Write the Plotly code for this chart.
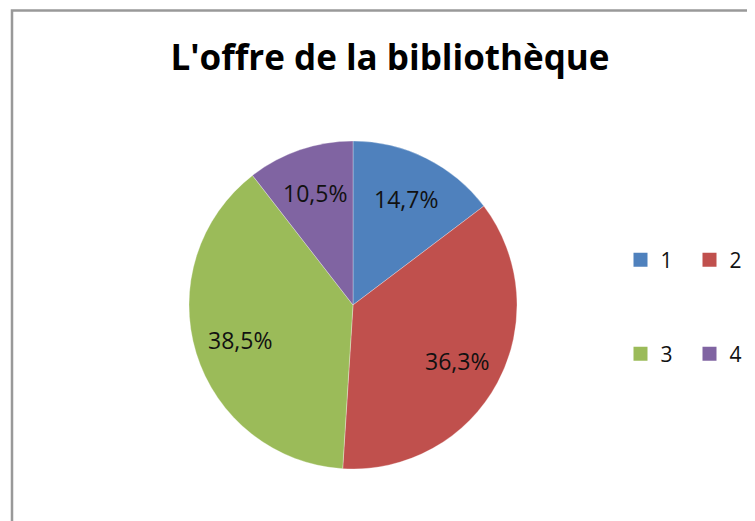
import math
import plotly.graph_objects as go

# figure drawn at 747x513 because the page body adds an 8px margin
W, H = 747, 513

title_text = "L'offre de la bibliothèque"
categories = ["1", "2", "3", "4"]
values = [14.7, 36.3, 38.5, 10.5]
colors = ["#4F81BD", "#C0504D", "#9BBB59", "#8064A2"]

# pie geometry (pixels inside the figure)
CX, CY, R = 345, 297, 164
LABEL_R = 0.72

fig = go.Figure()

fig.add_trace(go.Pie(
    labels=categories,
    values=values,
    sort=False,
    direction="clockwise",
    rotation=0,
    marker=dict(colors=colors, line=dict(color="rgba(255,255,255,0.6)", width=0.5)),
    textinfo="none",
    showlegend=False,
    hoverinfo="label+percent",
    domain=dict(x=[(CX - R) / W, (CX + R) / W], y=[1 - (CY + R) / H, 1 - (CY - R) / H]),
))

# percentage labels placed like Excel's (radially inside each slice)
total = sum(values)
annotations = []
cum = 0.0
for v in values:
    frac = v / total
    mid = (cum + frac / 2) * 2 * math.pi
    cum += frac
    px = CX + LABEL_R * R * math.sin(mid)
    py = CY - LABEL_R * R * math.cos(mid)
    annotations.append(dict(
        x=px / W, y=1 - py / H, xref="paper", yref="paper",
        text=f"{frac * 100:.1f}%".replace(".", ","),
        showarrow=False, xanchor="center", yanchor="middle",
        font=dict(family="Open Sans", size=23, color="#111111"),
    ))

# legend entries (2 x 2 grid like the original)
for i, (cat, col) in enumerate(zip(categories, colors)):
    fig.add_trace(go.Scatter(
        x=[None], y=[None], mode="markers", name=cat,
        marker=dict(symbol="square", size=14, color=col),
        legend="legend" if i < 2 else "legend2",
        showlegend=True,
    ))

leg_common = dict(
    orientation="h",
    font=dict(family="Open Sans", size=21, color="#111111"),
    bgcolor="rgba(0,0,0,0)",
    itemwidth=30,
    entrywidth=24,
    entrywidthmode="pixels",
    xanchor="left",
    yanchor="middle",
)

fig.update_layout(
    width=W, height=H,
    margin=dict(l=0, r=0, t=0, b=0, autoexpand=False),
    paper_bgcolor="white",
    plot_bgcolor="white",
    separators=", ",
    title=dict(
        text=title_text,
        x=382 / W, xanchor="center",
        y=1 - 49.5 / H, yanchor="middle",
        font=dict(family="Open Sans", size=35, color="#000000", weight="bold"),
    ),
    xaxis=dict(visible=False),
    yaxis=dict(visible=False),
    legend=dict(x=612.5 / W, y=1 - 252 / H, **leg_common),
    legend2=dict(x=612.5 / W, y=1 - 346 / H, **leg_common),
    annotations=annotations,
    shapes=[dict(
        type="rect", xref="paper", yref="paper",
        x0=4 / W, x1=1.05, y0=-0.05, y1=1 - 2.5 / H,
        line=dict(color="#999999", width=2.5),
        fillcolor="rgba(0,0,0,0)",
        layer="below",
    )],
)

fig.write_html("out.html")
